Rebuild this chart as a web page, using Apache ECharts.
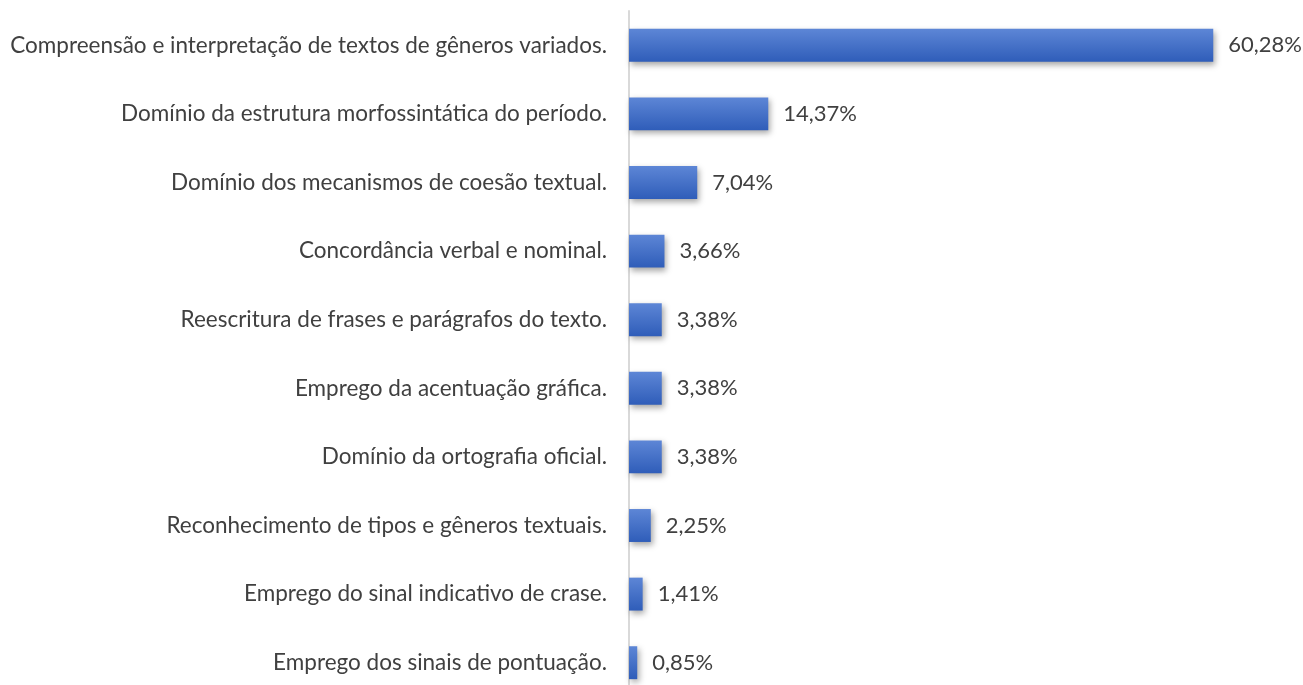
<!DOCTYPE html>
<html>
<head>
<meta charset="utf-8">
<script src="https://cdn.jsdelivr.net/npm/echarts@6/dist/echarts.min.js"></script>
<style>
  html, body { margin: 0; padding: 0; background: #fff; }
  #chart { width: 1303px; height: 685px; }
</style>
</head>
<body>
<div id="chart"></div>
<script>
// categorias (de cima para baixo)
var categorias = [
  "Compreensão e interpretação de textos de gêneros variados.",
  "Domínio da estrutura morfossintática do período.",
  "Domínio dos mecanismos de coesão textual.",
  "Concordância verbal e nominal.",
  "Reescritura de frases e parágrafos do texto.",
  "Emprego da acentuação gráfica.",
  "Domínio da ortografia oficial.",
  "Reconhecimento de tipos e gêneros textuais.",
  "Emprego do sinal indicativo de crase.",
  "Emprego dos sinais de pontuação."
];
var valores = [60.28, 14.37, 7.04, 3.66, 3.38, 3.38, 3.38, 2.25, 1.41, 0.85];

var chart = echarts.init(document.getElementById("chart"));
var fonte = "Lato, sans-serif";

var option = {
  animation: false,
  grid: {
    left: 629, right: 44, top: 11, height: 686,
    containLabel: false,
    outerBoundsMode: "none"
  },
  xAxis: {
    type: "value",
    min: 0,
    max: 65,
    show: false
  },
  yAxis: {
    type: "category",
    inverse: true,
    data: categorias,
    axisLine: { show: true, lineStyle: { color: "#d9d9d9", width: 2 } },
    axisTick: { show: false },
    axisLabel: {
      margin: 22,
      color: "#404040",
      fontSize: 22.5,
      fontFamily: fonte
    }
  },
  series: [
    {
      type: "bar",
      data: valores,
      barWidth: "48%",
      itemStyle: {
        color: new echarts.graphic.LinearGradient(0, 0, 0, 1, [
          { offset: 0, color: "#5d86d6" },
          { offset: 1, color: "#2f5db9" }
        ]),
        shadowColor: "rgba(0,0,0,0.35)",
        shadowBlur: 6,
        shadowOffsetX: 2,
        shadowOffsetY: 3
      },
      label: {
        show: true,
        position: "right",
        distance: 15,
        color: "#404040",
        fontSize: 22,
        fontFamily: fonte,
        formatter: function (p) {
          return p.value.toFixed(2).replace(".", ",") + "%";
        }
      }
    }
  ]
};
chart.setOption(option);
</script>
</body>
</html>
